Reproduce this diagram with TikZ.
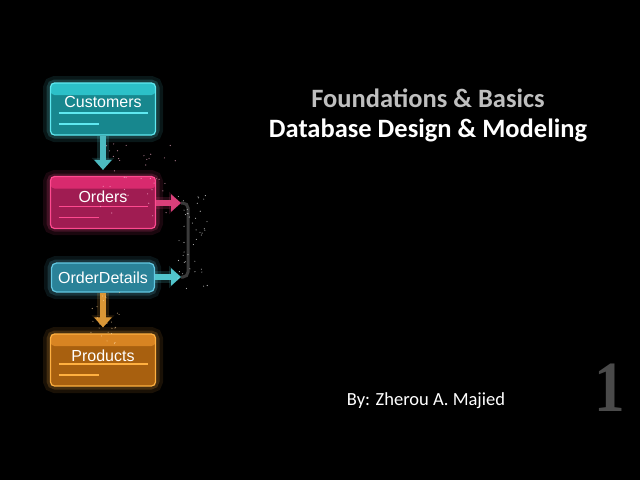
\documentclass[tikz,border=0pt]{standalone}
\usepackage{fontspec}
\setmainfont{Carlito}
\newfontfamily\boxfont{Liberation Sans}
\newfontfamily\numfont{Liberation Serif}
\usetikzlibrary{arrows.meta,calc}
\definecolor{cyanB}{HTML}{5FE8F0}
\definecolor{cyanF}{HTML}{17878E}
\definecolor{cyanH}{HTML}{2CC0C8}
\definecolor{pinkB}{HTML}{FF4A90}
\definecolor{pinkF}{HTML}{A01C52}
\definecolor{pinkH}{HTML}{D82A6E}
\definecolor{blueB}{HTML}{62C8E2}
\definecolor{blueF}{HTML}{2A8298}
\definecolor{oranB}{HTML}{FFB040}
\definecolor{oranF}{HTML}{A8600F}
\definecolor{oranH}{HTML}{D88422}
\definecolor{titlegray}{HTML}{BFBFBF}
\definecolor{numgray}{HTML}{4A4A4A}
\definecolor{linkgray}{HTML}{3A3A3A}
\tikzset{
  tbl/.style n args={3}{draw=#1, fill=#2, line width=1.2pt, rounded corners=4pt,
    minimum width=105pt, minimum height=52pt, inner sep=0pt,
    path picture={
      \fill[#3] (path picture bounding box.north west) rectangle ([yshift=-12pt]path picture bounding box.north east);
      \draw[#1, line width=1.4pt] ([xshift=8pt,yshift=-30pt]path picture bounding box.north west) -- ([xshift=-8pt,yshift=-30pt]path picture bounding box.north east);
      \draw[#1, line width=1.4pt] ([xshift=8pt,yshift=-41pt]path picture bounding box.north west) -- ([xshift=48pt,yshift=-41pt]path picture bounding box.north west);
    }},
  glowbox/.style={rounded corners=5pt, draw=#1, line width=14pt, opacity=0.10},
  glowbox2/.style={rounded corners=5pt, draw=#1, line width=7pt, opacity=0.18},
  lbl/.style={font=\boxfont\fontsize{16}{18}\selectfont, text=white, inner sep=0pt},
  flow/.style={line width=6pt, draw=#1, -{Triangle[length=10pt,width=17pt]}},
  flowglow/.style={line width=12pt, draw=#1, opacity=0.15, -{Triangle[length=12pt,width=22pt]}},
  spark/.style={fill=#1, opacity=0.7},
}
\begin{document}
\begin{tikzpicture}[x=1pt,y=-1pt]
\fill[black] (0,0) rectangle (640,480);
\useasboundingbox (0,0) rectangle (640,480);

% soft glows
\draw[glowbox=cyanB] (50,83) rectangle (156,135);
\draw[glowbox2=cyanB] (50,83) rectangle (156,135);
\draw[glowbox=pinkB] (50,177) rectangle (156,228);
\draw[glowbox2=pinkB] (50,177) rectangle (156,228);
\draw[glowbox=blueB] (51,263) rectangle (154,292);
\draw[glowbox2=blueB] (51,263) rectangle (154,292);
\draw[glowbox=oranB] (50,334) rectangle (156,386);
\draw[glowbox2=oranB] (50,334) rectangle (156,386);

% tables
\node[tbl={cyanB}{cyanF}{cyanH}] (cust) at (103,109) {};
\node[lbl] (custT) at ([yshift=-20pt]cust.north) {Customers};
\node[tbl={pinkB}{pinkF}{pinkH}] (ord) at (103,202.5) {};
\node[lbl] (ordT) at ([yshift=-21pt]ord.north) {Orders};
\node[draw=blueB, fill=blueF, line width=1.2pt, rounded corners=5pt, minimum width=103pt, minimum height=29pt, inner sep=0pt] (od) at (103,277.5) {};
\node[lbl] (odT) at (od.center) {OrderDetails};
\node[tbl={oranB}{oranF}{oranH}] (prod) at (103,360) {};
\node[lbl] (prodT) at ([yshift=-22pt]prod.north) {Products};

% connector coordinates
\coordinate (j1) at (181,203);
\coordinate (j2) at (181,277);

% link line
\draw[linkgray, line width=3pt, rounded corners=5pt] (j1) -- ++(7,0) |- (j2);

% arrows
\draw[flowglow=cyanB, shorten >=6pt] (cust.south) -- (ord.north);
\draw[flow=cyanB!80!black, shorten >=6pt] (cust.south) -- (ord.north);
\draw[flowglow=pinkB] (ord.east |- j1) -- (j1);
\draw[flow=pinkB!85!black] (ord.east |- j1) -- (j1);
\draw[flowglow=cyanB] (od.east |- j2) -- (j2);
\draw[flow=cyanB!85!black] (od.east |- j2) -- (j2);
\draw[flowglow=oranB, shorten >=6pt] (od.south) -- (prod.north);
\draw[flow=oranB!85!black, shorten >=6pt] (od.south) -- (prod.north);

% sparkles
\pgfmathsetseed{11}
\foreach \i in {1,...,40}{
  \pgfmathsetmacro\px{100+rnd*80}
  \pgfmathsetmacro\py{140+rnd*80}
  \fill[spark=pinkB!40!white] (\px,\py) circle (0.6pt);
}
\foreach \i in {1,...,45}{
  \pgfmathsetmacro\px{178+rnd*30}
  \pgfmathsetmacro\py{195+rnd*95}
  \fill[spark=white] (\px,\py) circle (0.55pt);
}
\foreach \i in {1,...,25}{
  \pgfmathsetmacro\px{90+rnd*30}
  \pgfmathsetmacro\py{290+rnd*55}
  \fill[spark=oranB!50!white] (\px,\py) circle (0.55pt);
}

% titles
\node[font=\bfseries\fontsize{26.5}{30}\selectfont, text=titlegray, inner sep=0pt] (t1) at (428,98) {Foundations \& Basics};
\node[font=\bfseries\fontsize{26.5}{30}\selectfont, text=white, inner sep=0pt] (t2) at (428,130) {Database Design \& Modeling};
\node[font=\fontsize{18.5}{22}\selectfont, text=white, inner sep=0pt] (by) at (426,401) {By: Zherou A. Majied};
\node[font=\numfont\bfseries\fontsize{72}{80}\selectfont, text=numgray, inner sep=0pt, xscale=0.85] (num) at (610,388) {1};
\end{tikzpicture}
\end{document}
